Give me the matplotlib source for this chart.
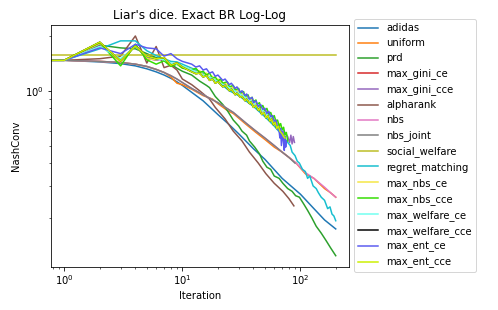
import matplotlib
matplotlib.use("Agg")
import matplotlib.pyplot as plt

# --- data (iteration, NashConv) ---
early_it = [0, 1, 2, 3, 4, 5, 6, 7, 8, 9, 10]

adidas_it = early_it + [12, 15, 20, 25, 30, 40, 50, 70, 100, 130, 160, 199]
adidas_y = [1.47, 1.47, 1.44, 1.41, 1.37, 1.32, 1.27, 1.22, 1.17, 1.12, 1.07,
            0.98, 0.88, 0.74, 0.65, 0.58, 0.48, 0.42, 0.33, 0.27, 0.225, 0.195, 0.174]

uniform_it = early_it + [12, 15, 18, 20, 24, 27, 35, 42, 50, 60, 70, 80, 92, 110, 130, 160, 180, 199]
uniform_y = [1.47, 1.47, 1.45, 1.43, 1.40, 1.36, 1.31, 1.26, 1.19, 1.10, 1.08,
             1.02, 0.94, 0.90, 0.85, 0.78, 0.75, 0.65, 0.59, 0.54, 0.49, 0.46, 0.43, 0.40, 0.35, 0.33, 0.29, 0.275, 0.26]

prd_it = early_it + [12, 14, 16, 17, 19, 22, 24, 27, 30, 32, 35, 37, 41, 45, 48, 52, 56, 60,
                     66, 71, 78, 85, 91, 98, 106, 115, 125, 136, 150, 165, 180, 199]
prd_y = [1.47, 1.47, 1.78, 1.72, 1.70, 1.60, 1.52, 1.47, 1.40, 1.33, 1.28,
         1.22, 1.13, 1.07, 1.04, 0.93, 0.84, 0.78, 0.69, 0.64, 0.60, 0.57, 0.53, 0.49, 0.45, 0.41,
         0.38, 0.37, 0.34, 0.33, 0.31, 0.29, 0.28, 0.265, 0.26, 0.24, 0.22, 0.20, 0.18, 0.165, 0.15, 0.137, 0.124]

gini_ce_it = early_it + [12, 15, 18, 21, 25, 30, 35, 40, 45, 50, 56, 62, 68, 72]
gini_ce_y = [1.47, 1.47, 1.82, 1.44, 1.78, 1.50, 1.48, 1.52, 1.40, 1.42, 1.36,
             1.30, 1.22, 1.17, 1.10, 1.04, 0.97, 0.91, 0.86, 0.80, 0.76, 0.71, 0.66, 0.61, 0.57]

gini_cce_it = early_it + [12, 15, 18, 21, 25, 30, 35, 40, 45, 50, 56, 62, 68, 74, 78, 81, 83, 85, 87, 89]
gini_cce_y = [1.47, 1.47, 1.80, 1.45, 1.78, 1.52, 1.47, 1.50, 1.40, 1.41, 1.35,
              1.30, 1.24, 1.16, 1.12, 1.05, 0.98, 0.92, 0.87, 0.81, 0.77, 0.72, 0.67, 0.62, 0.59,
              0.56, 0.52, 0.57, 0.51, 0.56, 0.52]

alpharank_it = early_it + [12, 14, 17, 19, 23, 27, 32, 37, 44, 51, 60, 71, 80, 88]
alpharank_y = [1.47, 1.47, 1.50, 1.55, 2.00, 1.42, 1.75, 1.34, 1.38, 1.30, 1.16,
               1.08, 1.00, 0.90, 0.81, 0.70, 0.60, 0.53, 0.46, 0.40, 0.35, 0.31, 0.28, 0.255, 0.233]

nbs_it = early_it + [12, 15, 20, 27, 35, 42, 50, 60, 70, 80, 92, 110, 130, 160, 180, 199]
nbs_y = [1.47, 1.47, 1.45, 1.43, 1.40, 1.36, 1.31, 1.26, 1.21, 1.16, 1.11,
         1.03, 0.95, 0.86, 0.76, 0.66, 0.60, 0.55, 0.50, 0.46, 0.43, 0.40, 0.355, 0.33, 0.295, 0.275, 0.26]

nbs_joint_it = early_it + [12, 15, 20, 27, 35, 42, 50, 60, 70, 80, 90]
nbs_joint_y = [1.47, 1.47, 1.45, 1.43, 1.40, 1.36, 1.31, 1.26, 1.21, 1.16, 1.11,
               1.03, 0.95, 0.86, 0.76, 0.66, 0.60, 0.55, 0.50, 0.46, 0.43, 0.40]

social_welfare_it = [0, 1, 199]
social_welfare_y = [1.57, 1.57, 1.57]

regret_it = early_it + [12, 15, 20, 25, 30, 40, 50, 60, 70, 78, 82, 85, 90, 94, 98, 104, 110,
                        115, 120, 128, 136, 142, 150, 160, 170, 178, 185, 192, 199]
regret_y = [1.47, 1.47, 1.70, 1.88, 1.88, 1.66, 1.56, 1.50, 1.45, 1.44, 1.40,
            1.33, 1.25, 1.12, 1.00, 0.94, 0.82, 0.72, 0.64, 0.57, 0.52, 0.50, 0.46, 0.44, 0.41,
            0.40, 0.37, 0.36, 0.33, 0.34, 0.30, 0.29, 0.275, 0.26, 0.25, 0.225, 0.23, 0.21, 0.205, 0.193]

nbs_ce_it = early_it + [12, 13, 14, 15, 16, 17, 18, 19, 20, 22, 23, 25, 26, 28, 29, 31, 32, 34, 35,
                        37, 39, 40, 42, 44, 46, 48, 50, 52, 54, 56, 58, 60, 62, 64, 66, 68, 70, 72]
nbs_ce_y = [1.47, 1.47, 1.82, 1.44, 1.78, 1.50, 1.48, 1.52, 1.40, 1.42, 1.36,
            1.31, 1.27, 1.29, 1.22, 1.25, 1.18, 1.20, 1.14, 1.16, 1.09, 1.11, 1.03, 1.06, 0.99,
            1.01, 0.95, 0.97, 0.91, 0.93, 0.88, 0.90, 0.84, 0.86, 0.81, 0.83, 0.77, 0.79, 0.74,
            0.76, 0.71, 0.73, 0.67, 0.69, 0.64, 0.66, 0.61, 0.62, 0.57]

nbs_cce_it = early_it + [12, 13, 14, 15, 16, 17, 18, 19, 20, 21, 22, 24, 25, 27, 28, 30, 31, 33, 34,
                         36, 37, 39, 40, 42, 43, 45, 46, 48, 50, 52, 54, 56, 58, 60, 62, 64, 66,
                         68, 70, 72, 74, 76, 78]
nbs_cce_y = [1.47, 1.47, 1.84, 1.37, 1.80, 1.48, 1.40, 1.46, 1.36, 1.40, 1.33,
             1.30, 1.33, 1.26, 1.28, 1.22, 1.25, 1.17, 1.19, 1.13, 1.16, 1.10, 1.12, 1.05, 1.07,
             1.01, 1.03, 0.97, 0.99, 0.93, 0.95, 0.90, 0.92, 0.87, 0.89, 0.84, 0.86, 0.81, 0.83,
             0.78, 0.80, 0.74, 0.76, 0.71, 0.73, 0.68, 0.69, 0.64, 0.66, 0.61, 0.63, 0.57, 0.59, 0.53]

welfare_ce_it = early_it + [12, 15, 18, 21, 25, 30, 35, 40, 45, 50, 56, 62, 70]
welfare_ce_y = [1.47, 1.47, 1.75, 1.50, 1.75, 1.55, 1.50, 1.48, 1.42, 1.40, 1.37,
                1.30, 1.22, 1.17, 1.10, 1.04, 0.97, 0.91, 0.86, 0.80, 0.76, 0.71, 0.66, 0.60]

ent_ce_it = early_it + [12, 13, 14, 15, 16, 17, 18, 19, 20, 22, 23, 25, 26, 28, 29, 31, 32, 34, 35,
                        37, 39, 40, 42, 44, 46, 48, 50, 52, 54, 56, 58, 60, 62, 64, 66, 67, 68,
                        69, 71, 72, 73, 74, 75, 76]
ent_ce_y = [1.47, 1.47, 1.72, 1.60, 1.80, 1.72, 1.70, 1.55, 1.60, 1.50, 1.45,
            1.40, 1.35, 1.37, 1.30, 1.32, 1.25, 1.27, 1.20, 1.22, 1.14, 1.16, 1.08, 1.10, 1.03,
            1.05, 0.98, 1.00, 0.94, 0.96, 0.90, 0.92, 0.86, 0.88, 0.82, 0.84, 0.79, 0.80, 0.75,
            0.77, 0.72, 0.73, 0.68, 0.69, 0.63, 0.60, 0.55, 0.62, 0.50, 0.60, 0.52, 0.47, 0.56,
            0.49, 0.53]

ent_cce_it = early_it + [12, 13, 14, 15, 16, 17, 18, 19, 20, 22, 23, 25, 26, 28, 29, 31, 32, 34, 35,
                         37, 38, 40, 42, 44, 45, 47, 49, 51, 53, 55, 57, 59, 61, 63, 65, 67, 70,
                         72, 74]
ent_cce_y = [1.47, 1.47, 1.85, 1.46, 1.76, 1.55, 1.50, 1.52, 1.38, 1.42, 1.35,
             1.27, 1.24, 1.25, 1.19, 1.21, 1.14, 1.16, 1.10, 1.12, 1.05, 1.07, 1.00, 1.02, 0.95,
             0.97, 0.92, 0.93, 0.88, 0.90, 0.85, 0.87, 0.81, 0.83, 0.78, 0.80, 0.74, 0.76, 0.71,
             0.73, 0.68, 0.70, 0.65, 0.67, 0.62, 0.64, 0.60, 0.58, 0.56, 0.55]

# max_welfare_cce is not visible in the reference: it lies under max_ent_cce
welfare_cce_it = ent_cce_it
welfare_cce_y = ent_cce_y

series = [
    ("adidas", adidas_it, adidas_y, "C0"),
    ("uniform", uniform_it, uniform_y, "C1"),
    ("prd", prd_it, prd_y, "C2"),
    ("max_gini_ce", gini_ce_it, gini_ce_y, "C3"),
    ("max_gini_cce", gini_cce_it, gini_cce_y, "C4"),
    ("alpharank", alpharank_it, alpharank_y, "C5"),
    ("nbs", nbs_it, nbs_y, "C6"),
    ("nbs_joint", nbs_joint_it, nbs_joint_y, "C7"),
    ("social_welfare", social_welfare_it, social_welfare_y, "C8"),
    ("regret_matching", regret_it, regret_y, "C9"),
    ("max_nbs_ce", nbs_ce_it, nbs_ce_y, "#f5e642"),
    ("max_nbs_cce", nbs_cce_it, nbs_cce_y, "#33dd00"),
    ("max_welfare_ce", welfare_ce_it, welfare_ce_y, "#70fff0"),
    ("max_welfare_cce", welfare_cce_it, welfare_cce_y, "black"),
    ("max_ent_ce", ent_ce_it, ent_ce_y, "#5a5af0"),
    ("max_ent_cce", ent_cce_it, ent_cce_y, "#ccf000"),
]

# --- plot ---
fig = plt.figure(figsize=(498 / 72, 310 / 72), dpi=72)
ax = fig.add_axes([0.1018, 0.1397, 0.5996, 0.7797])

for name, it, y, c in series:
    ax.plot(it, y, label=name, color=c)

ax.set_xscale("log")
ax.set_yscale("log")
ax.set_title("Liar's dice. Exact BR Log-Log")
ax.set_xlabel("Iteration")
ax.set_ylabel("NashConv")
ax.legend(loc="center left", bbox_to_anchor=(1, 0.5))

fig.savefig("out.png", dpi=72)
plt.close(fig)
